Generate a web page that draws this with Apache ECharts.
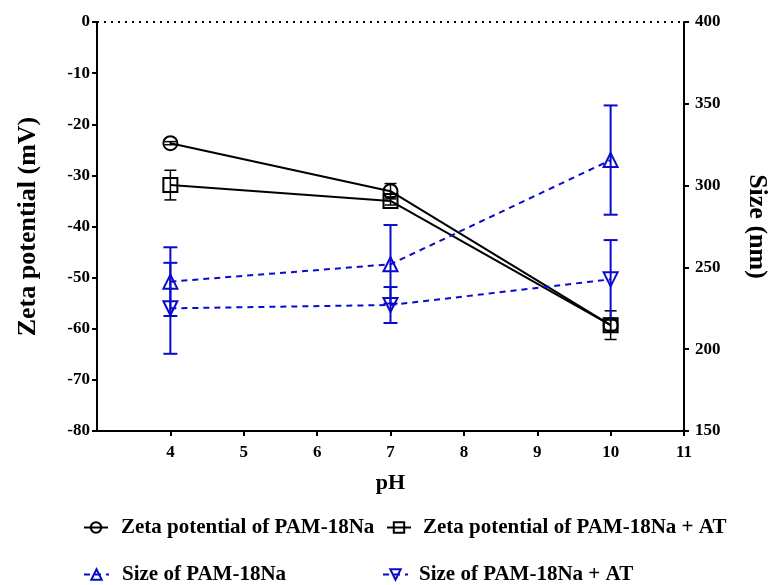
<!DOCTYPE html>
<html>
<head>
<meta charset="utf-8">
<script src="https://cdn.jsdelivr.net/npm/echarts@6/dist/echarts.min.js"></script>
<style>
html,body{margin:0;padding:0;background:#fff;overflow:hidden;}
#c{width:768px;height:585px;}
</style>
</head>
<body>
<div id="c"></div>
<script>
var pH = [4, 7, 10];
var xTicks = [4, 5, 6, 7, 8, 9, 10, 11];
var zetaPAM = [-23.7, -33.1, -59.3];
var zetaPAMErr = [0.3, 1.5, 1.0];
var zetaAT = [-31.9, -35.0, -59.3];
var zetaATErr = [2.9, 0.8, 2.8];
var sizePAM = [241.3, 251.9, 315.6];
var sizePAMErr = [21.0, 24.0, 33.4];
var sizeAT = [225.0, 227.0, 242.7];
var sizeATErr = [27.8, 11.0, 24.0];
var names = ['Zeta potential of PAM-18Na', 'Zeta potential of PAM-18Na + AT', 'Size of PAM-18Na', 'Size of PAM-18Na + AT'];

var BLUE = '#0a0acc';
var FONT = '"Liberation Serif", "Times New Roman", serif';

function pairs(ys) { return pH.map(function (x, i) { return [x, ys[i]]; }); }
function errData(ys, es) { return pH.map(function (x, i) { return [x, ys[i] - es[i], ys[i] + es[i]]; }); }

function errSeries(ys, es, axisIdx, color, width, cap) {
  return {
    type: 'custom',
    yAxisIndex: axisIdx,
    silent: true,
    z: 1,
    data: errData(ys, es),
    renderItem: function (params, api) {
      var x = api.value(0);
      var lo = api.coord([x, api.value(1)]);
      var hi = api.coord([x, api.value(2)]);
      var h = cap / 2;
      var st = { stroke: color, lineWidth: width };
      return {
        type: 'group',
        children: [
          { type: 'line', shape: { x1: lo[0], y1: lo[1], x2: hi[0], y2: hi[1] }, style: st },
          { type: 'line', shape: { x1: lo[0] - h, y1: lo[1], x2: lo[0] + h, y2: lo[1] }, style: st },
          { type: 'line', shape: { x1: hi[0] - h, y1: hi[1], x2: hi[0] + h, y2: hi[1] }, style: st }
        ]
      };
    }
  };
}

function lineSeries(name, ys, axisIdx, color, symbol, rotate, dashed) {
  return {
    name: name,
    type: 'line',
    yAxisIndex: axisIdx,
    data: pairs(ys),
    symbol: symbol,
    symbolSize: 14,
    symbolRotate: rotate,
    z: 3,
    lineStyle: { color: color, width: 2, type: dashed ? [6, 5] : 'solid' },
    itemStyle: { color: 'rgba(255,255,255,0)', borderColor: color, borderWidth: 2 }
  };
}

function legendAt(name, left, top, width, pad) {
  return {
    data: [name],
    left: left, top: top, itemWidth: width, itemHeight: 13, padding: 0,
    textStyle: { color: '#000', fontFamily: FONT, fontWeight: 'bold', fontSize: 21, padding: [0, 0, 0, pad] }
  };
}

var chart = echarts.init(document.getElementById('c'));
var axisLine = { show: true, onZero: false, lineStyle: { color: '#000', width: 2 } };
var tickStyle = { show: true, length: 5, lineStyle: { color: '#000', width: 2 } };
var labelStyle = { color: '#000', fontFamily: FONT, fontWeight: 'bold', fontSize: 17 };

var series = [
  errSeries(zetaPAM, zetaPAMErr, 0, '#000', 1.5, 12),
  errSeries(zetaAT, zetaATErr, 0, '#000', 1.5, 12),
  errSeries(sizePAM, sizePAMErr, 1, BLUE, 2, 14),
  errSeries(sizeAT, sizeATErr, 1, BLUE, 2, 14),
  lineSeries(names[0], zetaPAM, 0, '#000', 'circle', 0, false),
  lineSeries(names[1], zetaAT, 0, '#000', 'rect', 0, false),
  lineSeries(names[2], sizePAM, 1, BLUE, 'triangle', 0, true),
  lineSeries(names[3], sizeAT, 1, BLUE, 'triangle', 180, true)
];
series[4].markLine = {
  silent: true, symbol: 'none', label: { show: false },
  lineStyle: { color: '#000', width: 2, type: [2, 5] },
  data: [{ yAxis: 0 }]
};

chart.setOption({
  animation: false,
  backgroundColor: '#fff',
  grid: { left: 97, right: 84, top: 22, bottom: 154, containLabel: false, outerBoundsMode: 'none' },
  legend: [
    legendAt(names[0], 83, 517, 24, 8),
    legendAt(names[1], 386, 517, 24, 7),
    legendAt(names[2], 83, 564, 25, 8),
    legendAt(names[3], 382, 564, 25, 6)
  ],
  xAxis: {
    type: 'value', min: 3, max: 11, interval: 1,
    name: 'pH', nameLocation: 'middle', nameGap: 41,
    nameTextStyle: { color: '#000', fontFamily: FONT, fontWeight: 'bold', fontSize: 22 },
    axisLine: axisLine,
    axisTick: Object.assign({ customValues: xTicks }, tickStyle),
    splitLine: { show: false },
    axisLabel: Object.assign({ margin: 13, customValues: xTicks }, labelStyle)
  },
  yAxis: [
    {
      type: 'value', min: -80, max: 0, interval: 10, position: 'left',
      name: 'Zeta potential (mV)', nameLocation: 'middle', nameGap: 56, nameRotate: 90,
      nameTextStyle: { color: '#000', fontFamily: FONT, fontWeight: 'bold', fontSize: 26 },
      axisLine: axisLine, axisTick: tickStyle, splitLine: { show: false },
      axisLabel: Object.assign({ margin: 7 }, labelStyle)
    },
    {
      type: 'value', min: 150, max: 400, interval: 50, position: 'right',
      name: 'Size (nm)', nameLocation: 'middle', nameGap: 60, nameRotate: -90,
      nameTextStyle: { color: '#000', fontFamily: FONT, fontWeight: 'bold', fontSize: 26 },
      axisLine: axisLine, axisTick: tickStyle, splitLine: { show: false },
      axisLabel: Object.assign({ margin: 11 }, labelStyle)
    }
  ],
  series: series
});
</script>
</body>
</html>
